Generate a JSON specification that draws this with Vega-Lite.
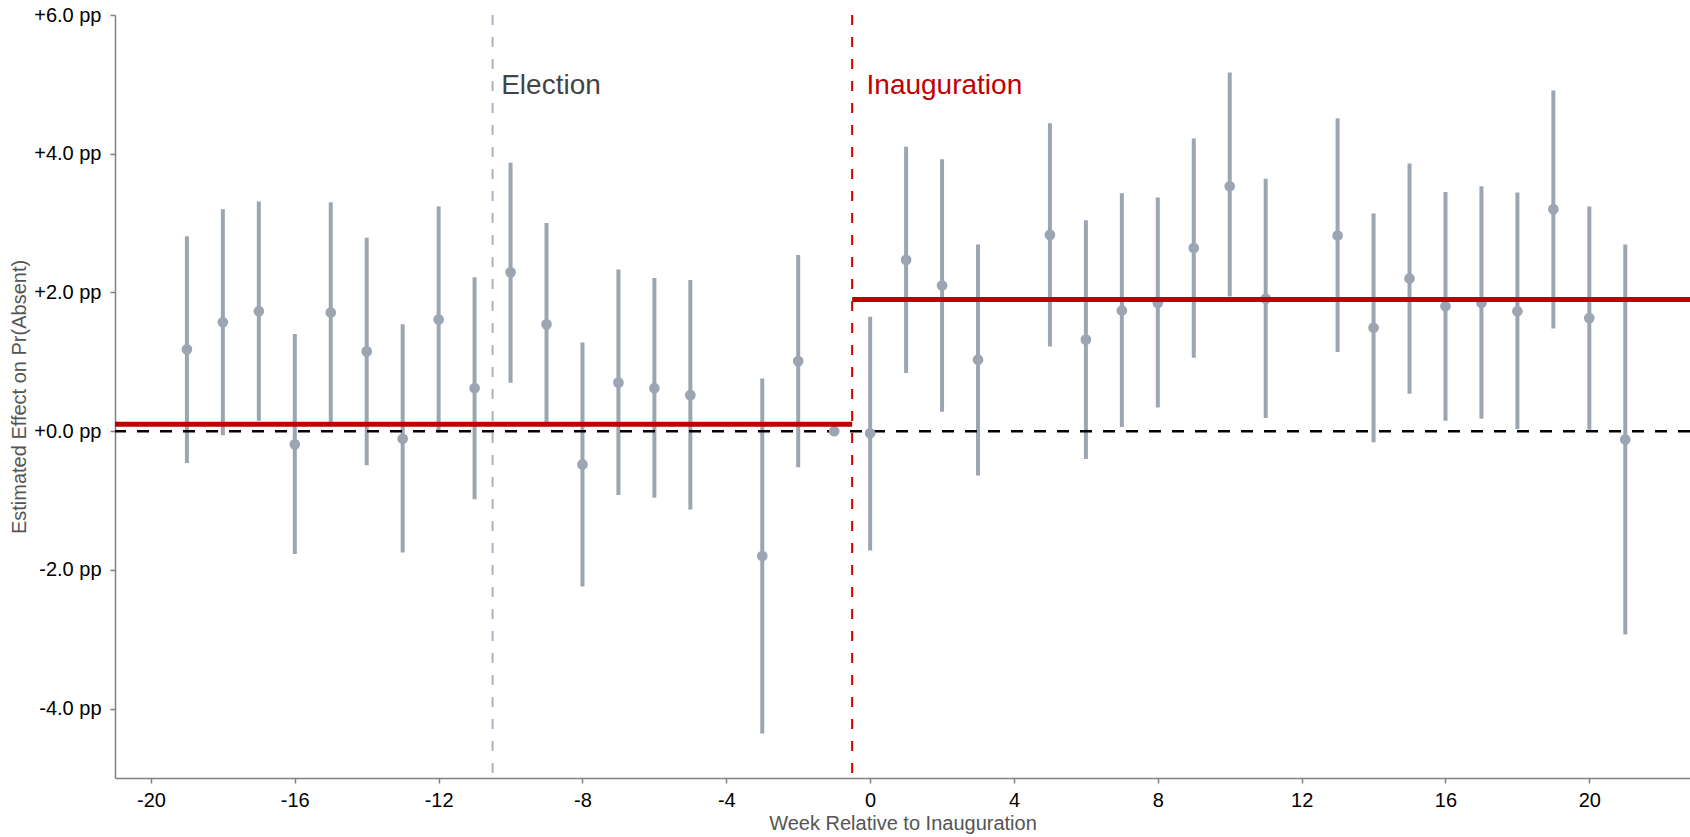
{
  "$schema": "https://vega.github.io/schema/vega-lite/v6.json",
  "width": 1575,
  "height": 763,
  "autosize": {"type": "none"},
  "padding": {"left": 115, "top": 15, "right": 0, "bottom": 59},
  "background": "white",
  "config": {
    "view": {"stroke": null},
    "font": "Liberation Sans",
    "axis": {
      "grid": false,
      "domainColor": "#808080",
      "domainWidth": 1.5,
      "tickColor": "#808080",
      "tickWidth": 1.5,
      "tickSize": 5,
      "labelColor": "#000000",
      "labelFont": "Liberation Sans",
      "labelFontSize": 20,
      "titleFont": "Liberation Sans",
      "titleFontSize": 20,
      "titleFontWeight": "normal",
      "titleColor": "#555555"
    }
  },
  "datasets": {
    "est": [
      {"week": -19, "est": 1.18, "lo": -0.46, "hi": 2.81},
      {"week": -18, "est": 1.57, "lo": -0.06, "hi": 3.20},
      {"week": -17, "est": 1.73, "lo": 0.15, "hi": 3.31},
      {"week": -16, "est": -0.19, "lo": -1.77, "hi": 1.40},
      {"week": -15, "est": 1.71, "lo": 0.12, "hi": 3.30},
      {"week": -14, "est": 1.15, "lo": -0.49, "hi": 2.79},
      {"week": -13, "est": -0.11, "lo": -1.75, "hi": 1.54},
      {"week": -12, "est": 1.61, "lo": -0.02, "hi": 3.24},
      {"week": -11, "est": 0.62, "lo": -0.98, "hi": 2.22},
      {"week": -10, "est": 2.29, "lo": 0.70, "hi": 3.87},
      {"week": -9, "est": 1.54, "lo": 0.13, "hi": 3.00},
      {"week": -8, "est": -0.48, "lo": -2.24, "hi": 1.28},
      {"week": -7, "est": 0.70, "lo": -0.92, "hi": 2.33},
      {"week": -6, "est": 0.62, "lo": -0.96, "hi": 2.21},
      {"week": -5, "est": 0.52, "lo": -1.13, "hi": 2.18},
      {"week": -3, "est": -1.80, "lo": -4.36, "hi": 0.76},
      {"week": -2, "est": 1.01, "lo": -0.52, "hi": 2.54},
      {"week": -1, "est": 0.0, "lo": null, "hi": null},
      {"week": 0, "est": -0.03, "lo": -1.72, "hi": 1.65},
      {"week": 1, "est": 2.47, "lo": 0.84, "hi": 4.10},
      {"week": 2, "est": 2.10, "lo": 0.28, "hi": 3.92},
      {"week": 3, "est": 1.03, "lo": -0.64, "hi": 2.69},
      {"week": 5, "est": 2.83, "lo": 1.22, "hi": 4.44},
      {"week": 6, "est": 1.32, "lo": -0.40, "hi": 3.04},
      {"week": 7, "est": 1.74, "lo": 0.06, "hi": 3.43},
      {"week": 8, "est": 1.85, "lo": 0.34, "hi": 3.37},
      {"week": 9, "est": 2.64, "lo": 1.06, "hi": 4.22},
      {"week": 10, "est": 3.53, "lo": 1.94, "hi": 5.17},
      {"week": 11, "est": 1.91, "lo": 0.19, "hi": 3.64},
      {"week": 13, "est": 2.82, "lo": 1.14, "hi": 4.51},
      {"week": 14, "est": 1.49, "lo": -0.16, "hi": 3.14},
      {"week": 15, "est": 2.20, "lo": 0.54, "hi": 3.86},
      {"week": 16, "est": 1.80, "lo": 0.15, "hi": 3.45},
      {"week": 17, "est": 1.85, "lo": 0.18, "hi": 3.53},
      {"week": 18, "est": 1.73, "lo": 0.03, "hi": 3.44},
      {"week": 19, "est": 3.20, "lo": 1.48, "hi": 4.91},
      {"week": 20, "est": 1.63, "lo": 0.02, "hi": 3.24},
      {"week": 21, "est": -0.12, "lo": -2.93, "hi": 2.69}
    ],
    "means": [
      {"period": "pre", "start": -21, "end": -0.5, "mean": 0.10},
      {"period": "post", "start": -0.5, "end": 22.8, "mean": 1.90}
    ],
    "events": [
      {"event": "Election", "week": -10.5, "labelWeek": -10.26, "labelY": 4.86},
      {"event": "Inauguration", "week": -0.5, "labelWeek": -0.1, "labelY": 4.86}
    ]
  },
  "resolve": {"axis": {"x": "shared", "y": "shared"}},
  "layer": [
    {
      "data": {"name": "est"},
      "mark": {"type": "rule", "color": "#9BA6B2", "strokeWidth": 4},
      "encoding": {
        "x": {
          "field": "week", "type": "quantitative",
          "scale": {"domain": [-21, 22.8], "nice": false, "zero": false},
          "axis": {
            "title": "Week Relative to Inauguration",
            "values": [-20, -16, -12, -8, -4, 0, 4, 8, 12, 16, 20],
            "labelExpr": "datum.value < 0 ? '-' + (-datum.value) : '' + datum.value",
            "labelPadding": 7,
            "titlePadding": 3
          }
        },
        "y": {
          "field": "lo", "type": "quantitative",
          "scale": {"domain": [-5, 6], "nice": false, "zero": false},
          "axis": {
            "title": "Estimated Effect on Pr(Absent)",
            "values": [-4, -2, 0, 2, 4, 6],
            "labelExpr": "datum.value < 0 ? '-' + format(-datum.value, '.1f') + ' pp' : '+' + format(datum.value, '.1f') + ' pp'",
            "labelPadding": 9,
            "titlePadding": 4
          }
        },
        "y2": {"field": "hi"}
      }
    },
    {
      "data": {"values": [{"zero": 0}]},
      "mark": {"type": "rule", "color": "#000000", "strokeWidth": 2.5, "strokeDash": [12, 11]},
      "encoding": {
        "y": {"datum": 0}
      }
    },
    {
      "data": {"name": "events"},
      "transform": [{"filter": "datum.event == 'Election'"}],
      "mark": {"type": "rule", "color": "#A9B3BE", "strokeWidth": 2, "strokeDash": [10, 12]},
      "encoding": {
        "x": {"field": "week", "type": "quantitative", "title": "Week Relative to Inauguration"}
      }
    },
    {
      "data": {"name": "events"},
      "transform": [{"filter": "datum.event == 'Inauguration'"}],
      "mark": {"type": "rule", "color": "#CC0000", "strokeWidth": 2, "strokeDash": [10, 12]},
      "encoding": {
        "x": {"field": "week", "type": "quantitative", "title": "Week Relative to Inauguration"}
      }
    },
    {
      "data": {"name": "est"},
      "mark": {"type": "circle", "color": "#9BA6B2", "opacity": 1, "size": 115},
      "encoding": {
        "x": {"field": "week", "type": "quantitative", "title": "Week Relative to Inauguration"},
        "y": {"field": "est", "type": "quantitative", "title": "Estimated Effect on Pr(Absent)"}
      }
    },
    {
      "data": {"name": "means"},
      "mark": {"type": "rule", "color": "#C00000", "strokeWidth": 5},
      "encoding": {
        "x": {"field": "start", "type": "quantitative", "title": "Week Relative to Inauguration"},
        "x2": {"field": "end"},
        "y": {"field": "mean", "type": "quantitative", "title": "Estimated Effect on Pr(Absent)"}
      }
    },
    {
      "data": {"name": "events"},
      "transform": [{"filter": "datum.event == 'Election'"}],
      "mark": {"type": "text", "color": "#444444", "fontSize": 28, "font": "Liberation Sans", "align": "left", "baseline": "alphabetic"},
      "encoding": {
        "x": {"field": "labelWeek", "type": "quantitative", "title": "Week Relative to Inauguration"},
        "y": {"field": "labelY", "type": "quantitative", "title": "Estimated Effect on Pr(Absent)"},
        "text": {"field": "event"}
      }
    },
    {
      "data": {"name": "events"},
      "transform": [{"filter": "datum.event == 'Inauguration'"}],
      "mark": {"type": "text", "color": "#C00000", "fontSize": 28, "font": "Liberation Sans", "align": "left", "baseline": "alphabetic"},
      "encoding": {
        "x": {"field": "labelWeek", "type": "quantitative", "title": "Week Relative to Inauguration"},
        "y": {"field": "labelY", "type": "quantitative", "title": "Estimated Effect on Pr(Absent)"},
        "text": {"field": "event"}
      }
    }
  ]
}
